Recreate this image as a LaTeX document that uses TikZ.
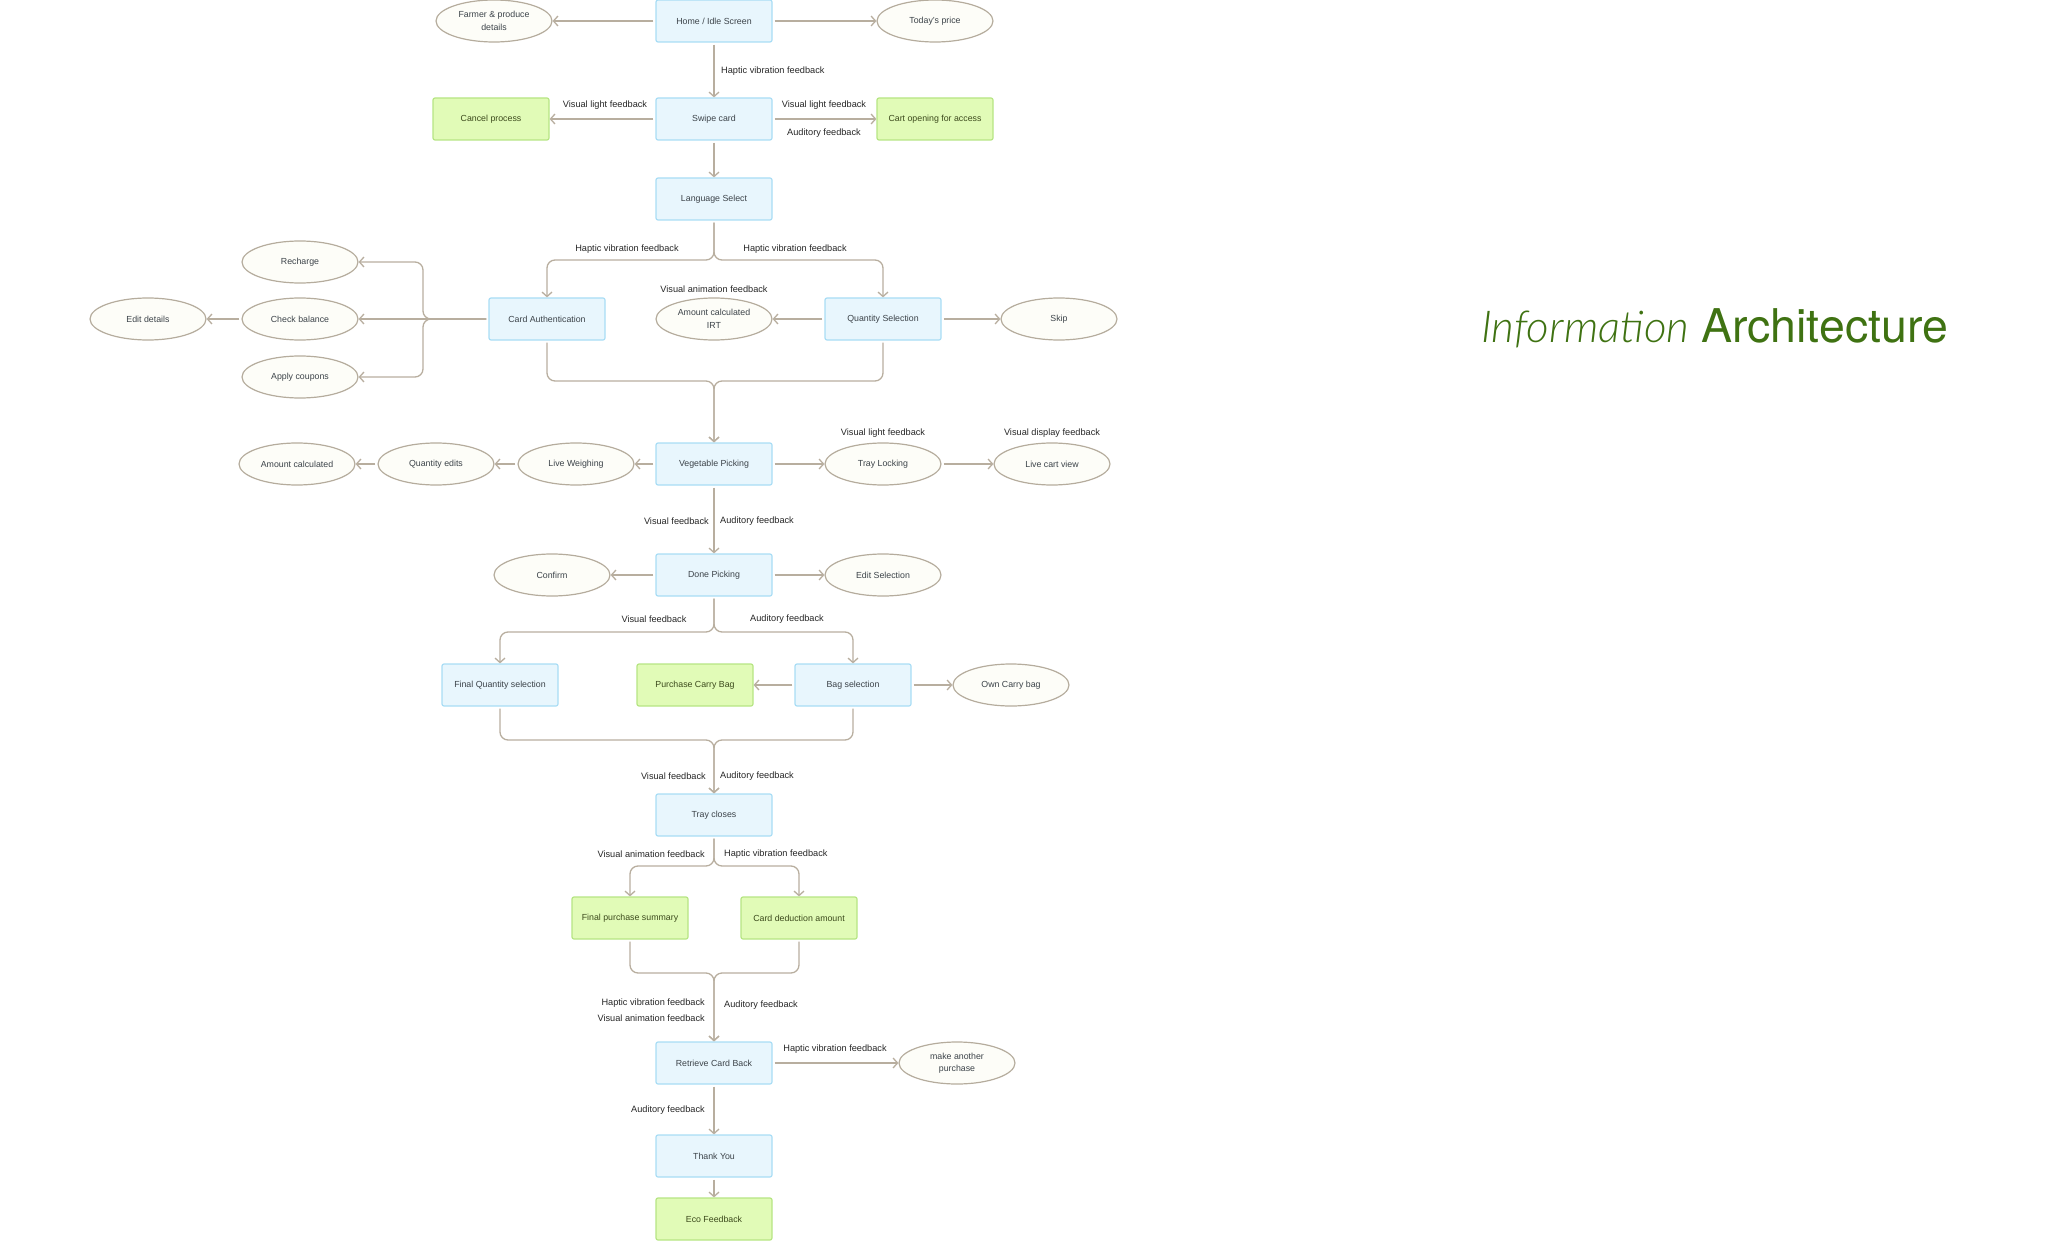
\documentclass[tikz,border=0pt]{standalone}
\usepackage{fontspec}
\setmainfont{Liberation Sans}
\newfontfamily\titlefont{TeX Gyre Heros}
\IfFontExistsTF{Lato Light Italic}
  {\newfontfamily\lightit{Lato Light Italic}}
  {\newfontfamily\lightit{TeX Gyre Heros Italic}}
\usetikzlibrary{shapes.geometric,arrows.meta}
\definecolor{boxfill}{HTML}{E8F6FD}
\definecolor{boxline}{HTML}{A9DDF5}
\definecolor{grnfill}{HTML}{E1FBB7}
\definecolor{grnline}{HTML}{B6E583}
\definecolor{elfill}{HTML}{FDFDF8}
\definecolor{elline}{HTML}{B5AC9D}
\definecolor{conn}{HTML}{B8AE9F}
\definecolor{txt}{HTML}{3C4349}
\definecolor{grntxt}{HTML}{3C4A1C}
\definecolor{lblc}{HTML}{262626}
\definecolor{ttl}{HTML}{3F7212}
\tikzset{
  base/.style={minimum width=116pt, minimum height=42pt, inner sep=1pt,
    font=\fontsize{8.8}{12.5}\selectfont, align=center, line width=1.2pt},
  screen/.style={base, rectangle, rounded corners=2pt, draw=boxline, fill=boxfill, text=txt},
  outcome/.style={base, rectangle, rounded corners=2pt, draw=grnline, fill=grnfill, text=grntxt},
  option/.style={base, ellipse, draw=elline, fill=elfill, text=txt},
  lbl/.style={font=\fontsize{9.2}{11}\selectfont, text=lblc, inner sep=0pt},
  link/.style={draw=conn, line width=1.3pt, rounded corners=8pt, shorten <=2pt,
    -{Straight Barb[length=4.5pt,width=10pt,line width=1.3pt]}},
}
\begin{document}
\begin{tikzpicture}[x=1pt,y=-1pt]
\useasboundingbox (0,0) rectangle (2048,1241);
% main column
\node[screen] (home) at (714,21) {Home / Idle Screen};
\node[option] (farmer) at (494,21) {Farmer \& produce\\details};
\node[option] (price) at (935,21) {Today's price};
\node[screen] (swipe) at (714,119) {Swipe card};
\node[outcome] (cancel) at (491,119) {Cancel process};
\node[outcome] (cart) at (935,119) {Cart opening for access};
\node[screen] (lang) at (714,199) {Language Select};
\node[screen] (auth) at (547,319) {Card Authentication};
\node[screen] (qty) at (883,319) {Quantity Selection};
\node[option] (irt) at (714,319) {Amount calculated\\IRT};
\node[option] (skip) at (1059,319) {Skip};
\node[option] (rech) at (300,262) {Recharge};
\node[option] (chk) at (300,319) {Check balance};
\node[option] (coup) at (300,377) {Apply coupons};
\node[option] (edit) at (148,319) {Edit details};
\node[screen] (veg) at (714,464) {Vegetable Picking};
\node[option] (weigh) at (576,464) {Live Weighing};
\node[option] (qedit) at (436,464) {Quantity edits};
\node[option] (amt) at (297,464) {Amount calculated};
\node[option] (tray) at (883,464) {Tray Locking};
\node[option] (live) at (1052,464) {Live cart view};
\node[screen] (done) at (714,575) {Done Picking};
\node[option] (conf) at (552,575) {Confirm};
\node[option] (esel) at (883,575) {Edit Selection};
\node[screen] (fqs) at (500,685) {Final Quantity selection};
\node[outcome] (pbag) at (695,685) {Purchase Carry Bag};
\node[screen] (bag) at (853,685) {Bag selection};
\node[option] (own) at (1011,685) {Own Carry bag};
\node[screen] (tclose) at (714,815) {Tray closes};
\node[outcome] (fps) at (630,918) {Final purchase summary};
\node[outcome] (cda) at (799,918) {Card deduction amount};
\node[screen] (ret) at (714,1063) {Retrieve Card Back};
\node[option] (again) at (957,1063) {make another\\purchase};
\node[screen] (thx) at (714,1156) {Thank You};
\node[outcome] (eco) at (714,1219) {Eco Feedback};
% title
\node[anchor=base west, inner sep=0pt, text=ttl] (title) at (1481,342) {{\lightit\fontsize{44}{50}\selectfont Information}\hspace{12pt}{\titlefont\fontsize{46.5}{50}\selectfont Architecture}};
% connectors
\draw[link] (home) -- (farmer);
\draw[link] (home) -- (price);
\draw[link] (home) -- (swipe);
\draw[link] (swipe) -- (cancel);
\draw[link] (swipe) -- (cart);
\draw[link] (swipe) -- (lang);
\draw[link] (lang.south) -- (714,260) -| (auth.north);
\draw[link] (lang.south) -- (714,260) -| (qty.north);
\draw[link] (auth.west) -- (423,319) |- (rech.east);
\draw[link] (auth.west) -- (chk.east);
\draw[link] (auth.west) -- (423,319) |- (coup.east);
\draw[link] (chk) -- (edit);
\draw[link] (qty) -- (irt);
\draw[link] (qty) -- (skip);
\draw[link] (auth.south) |- (714,381) -- (veg.north);
\draw[link] (qty.south) |- (714,381) -- (veg.north);
\draw[link] (veg) -- (weigh);
\draw[link] (weigh) -- (qedit);
\draw[link] (qedit) -- (amt);
\draw[link] (veg) -- (tray);
\draw[link] (tray) -- (live);
\draw[link] (veg) -- (done);
\draw[link] (done) -- (conf);
\draw[link] (done) -- (esel);
\draw[link] (done.south) -- (714,632) -| (fqs.north);
\draw[link] (done.south) -- (714,632) -| (bag.north);
\draw[link] (bag) -- (pbag);
\draw[link] (bag) -- (own);
\draw[link] (fqs.south) |- (714,740) -- (tclose.north);
\draw[link] (bag.south) |- (714,740) -- (tclose.north);
\draw[link] (tclose.south) -- (714,866) -| (fps.north);
\draw[link] (tclose.south) -- (714,866) -| (cda.north);
\draw[link] (fps.south) |- (714,973) -- (ret.north);
\draw[link] (cda.south) |- (714,973) -- (ret.north);
\draw[link] (ret) -- (again);
\draw[link] (ret) -- (thx);
\draw[link] (thx) -- (eco);
% labels
\node[lbl, anchor=west] (l1) at (721,71) {Haptic vibration feedback};
\node[lbl] (l2) at (605,105) {Visual light feedback};
\node[lbl] (l3) at (824,105) {Visual light feedback};
\node[lbl] (l4) at (824,133) {Auditory feedback};
\node[lbl] (l5) at (627,249) {Haptic vibration feedback};
\node[lbl] (l6) at (795,249) {Haptic vibration feedback};
\node[lbl] (l7) at (714,289) {Visual animation feedback};
\node[lbl] (l8) at (883,433) {Visual light feedback};
\node[lbl] (l9) at (1052,433) {Visual display feedback};
\node[lbl, anchor=east] (l10) at (709,521) {Visual feedback};
\node[lbl, anchor=west] (l11) at (720,521) {Auditory feedback};
\node[lbl] (l12) at (654,619) {Visual feedback};
\node[lbl] (l13) at (787,619) {Auditory feedback};
\node[lbl, anchor=east] (l14) at (706,776) {Visual feedback};
\node[lbl, anchor=west] (l15) at (720,776) {Auditory feedback};
\node[lbl, anchor=east] (l16) at (705,854) {Visual animation feedback};
\node[lbl, anchor=west] (l17) at (724,854) {Haptic vibration feedback};
\node[lbl, anchor=east] (l18) at (705,1003) {Haptic vibration feedback};
\node[lbl, anchor=east] (l19) at (705,1018) {Visual animation feedback};
\node[lbl, anchor=west] (l20) at (724,1005) {Auditory feedback};
\node[lbl] (l21) at (835,1049) {Haptic vibration feedback};
\node[lbl, anchor=east] (l22) at (705,1110) {Auditory feedback};
\end{tikzpicture}
\end{document}
